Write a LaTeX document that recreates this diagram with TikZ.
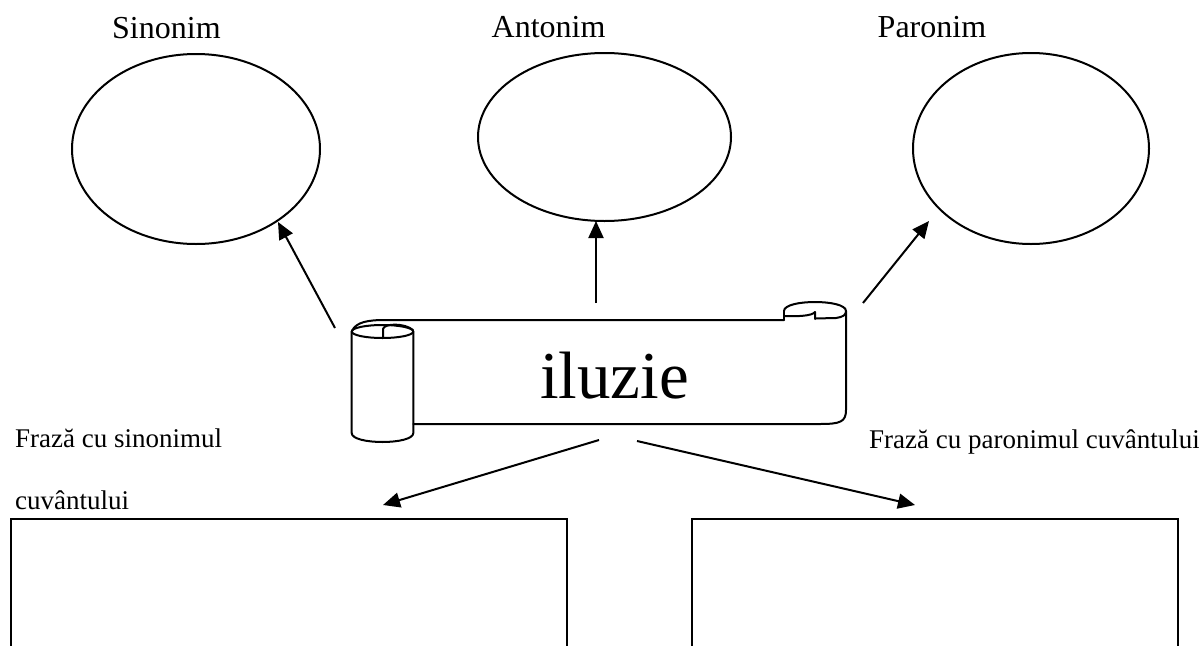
\documentclass[tikz,border=0pt]{standalone}
\usepackage{fontspec}
\setmainfont{Liberation Serif}
\usetikzlibrary{arrows.meta,shapes.geometric}
\begin{document}
\begin{tikzpicture}[x=1pt,y=-1pt,
  oval/.style={draw,ellipse,line width=2pt,inner sep=0pt},
  conn/.style={-{Triangle[length=17pt,width=15pt]},line width=2pt},
  lbl/.style={anchor=base west,inner sep=0pt,font=\fontsize{32}{38}\selectfont},
  smalllbl/.style={anchor=base west,inner sep=0pt,font=\fontsize{27}{32}\selectfont},
  scroll/.style={line width=2pt,line join=round,line cap=round},
  framebox/.style={line width=2.4pt}]
\useasboundingbox (0,0) rectangle (1199,645);

% ellipses
\node[oval,minimum width=248pt,minimum height=190pt] (syn) at (196,149) {};
\node[oval,minimum width=253pt,minimum height=168pt] (ant) at (604.5,137) {};
\node[oval,minimum width=236pt,minimum height=191pt] (par) at (1031,148.5) {};

% labels
\node[lbl] (t1) at (112,38) {Sinonim};
\node[lbl] (t2) at (491.5,37.5) {Antonim};
\node[lbl] (t3) at (877.5,37.5) {Paronim};

% scroll banner
\draw[scroll] (352,331) .. controls (356,322) and (368,320) .. (385,320) -- (784,320);
\draw[scroll] (413.3,424) -- (820,424) .. controls (840,424) and (846,422) .. (846,410) -- (846,311);
% left roll
\draw[scroll] (382.5,331.5) ellipse [x radius=30.8, y radius=6.5];
\draw[scroll] (351.7,331.5) -- (351.7,433) .. controls (351.7,445) and (413.3,445) .. (413.3,433) -- (413.3,331.5);
\draw[scroll] (383,337.5) -- (383,329) .. controls (384,323.5) and (404,322.5) .. (413,330);
% right roll
\draw[scroll] (784,311) .. controls (784,299) and (846,299) .. (846,311);
\draw[scroll] (815,318.5) -- (836,318) .. controls (843,317) and (846,315) .. (846,311);
\draw[scroll] (784,311) -- (784,320);
\draw[scroll] (785,316) .. controls (798,316.5) and (812,316) .. (815,312) -- (815,319);

\node[anchor=base,inner sep=0pt,font=\fontsize{67}{80}\selectfont] (word) at (614.5,398) {iluzie};

% connectors
\coordinate (a1) at (335,328); \coordinate (b1) at (278,222);
\coordinate (a2) at (596,303); \coordinate (b2) at (596,221);
\coordinate (a3) at (863,303); \coordinate (b3) at (929,221);
\coordinate (a4) at (599,440); \coordinate (b4) at (383,505);
\coordinate (a5) at (637,441); \coordinate (b5) at (915,505);
\draw[conn] (a1) -- (b1);
\draw[conn] (a2) -- (b2);
\draw[conn] (a3) -- (b3);
\draw[conn] (a4) -- (b4);
\draw[conn] (a5) -- (b5);

% bottom labels
\node[smalllbl] (f1) at (15,447) {Frază cu sinonimul};
\node[smalllbl] (f2) at (15,509) {cuvântului};
\node[smalllbl] (f3) at (869,448) {Frază cu paronimul cuvântului};

% boxes (cut by the page bottom)
\draw[framebox] (10.7,647) -- (10.7,519) -- (567,519) -- (567,647);
\draw[framebox] (692,647) -- (692,519) -- (1178,519) -- (1178,647);
\end{tikzpicture}
\end{document}
